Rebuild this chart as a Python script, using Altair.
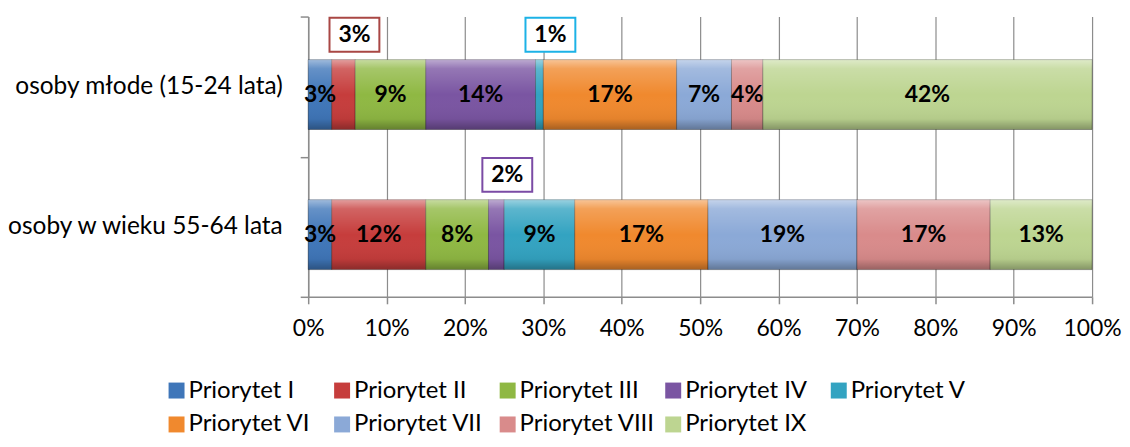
import altair as alt
import pandas as pd

groups = ["osoby młode (15-24 lata)", "osoby w wieku 55-64 lata"]
priorities = ["Priorytet I", "Priorytet II", "Priorytet III", "Priorytet IV",
              "Priorytet V", "Priorytet VI", "Priorytet VII", "Priorytet VIII",
              "Priorytet IX"]
young = [3, 3, 9, 14, 1, 17, 7, 4, 42]
older = [3, 12, 8, 2, 9, 17, 19, 17, 13]
# segments whose label is drawn in a box above the bar
callout_young = [False, True, False, False, True, False, False, False, False]
callout_older = [False, False, False, True, False, False, False, False, False]
x_ticks = [0, 10, 20, 30, 40, 50, 60, 70, 80, 90, 100]

colors = ["#3F76B9", "#C63D3C", "#8FB843", "#7A55A2", "#33A3C1",
          "#F0892E", "#8BA9D7", "#D98B8B", "#BDD591"]
edge_colors = ["#3A6CA8", "#A94744", "#7E9E40", "#7B4BA5", "#1CB2E6",
               "#D9792A", "#7891BF", "#B97474", "#9CB574"]

rows = []
for g, vals, calls in zip(groups, [young, older], [callout_young, callout_older]):
    for i, (p, v, c) in enumerate(zip(priorities, vals, calls)):
        rows.append(dict(group=g, priority=p, order=i, value=v, callout=c))
df = pd.DataFrame(rows)

FONT = "Lato"

base = alt.Chart(df).transform_stack(
    stack="value", as_=["x0", "x1"], groupby=["group"],
    sort=[alt.SortField("order", order="ascending")]
).transform_calculate(
    mid="(datum.x0 + datum.x1) / 2",
    label="datum.value + '%'"
)

y_scale = alt.Scale(paddingInner=0, paddingOuter=0)

y_enc = alt.Y("group:N", sort=groups, scale=y_scale,
              axis=alt.Axis(title=None, tickBand="extent", tickSize=8,
                            labelPadding=18, grid=False, domain=True,
                            labelFontSize=24.5, labelLimit=500))

x_enc = alt.X("x0:Q", scale=alt.Scale(domain=[0, 100], nice=False, zero=True),
              axis=alt.Axis(title=None, values=x_ticks,
                            labelExpr="datum.value + '%'", grid=True,
                            labelOverlap=False, labelFlush=False,
                            tickSize=7, labelPadding=14, labelFontSize=23))

y_plain = alt.Y("group:N", sort=groups, scale=y_scale)

bars = base.mark_bar(size=70, yOffset=8, stroke="rgba(0,0,0,0.3)",
                     strokeWidth=1).encode(
    x=x_enc,
    x2="x1:Q",
    y=y_enc,
    color=alt.Color("priority:N",
                    scale=alt.Scale(domain=priorities, range=colors),
                    legend=alt.Legend(title=None, orient="none",
                                      legendX=-144, legendY=363,
                                      direction="horizontal", columns=5,
                                      gridAlign="all", columnPadding=6,
                                      rowPadding=10, symbolType="square",
                                      symbolSize=256, symbolStrokeWidth=0,
                                      symbolOpacity=1, labelFont=FONT,
                                      labelFontSize=24, labelOffset=0,
                                      labelColor="black", labelLimit=300)),
    order=alt.Order("order:Q"),
)

bevel = base.mark_bar(
    size=70,
    yOffset=8,
    fill=alt.Gradient(
        gradient="linear", x1=0, x2=0, y1=0, y2=1,
        stops=[
            alt.GradientStop(color="rgba(255,255,255,0.5)", offset=0),
            alt.GradientStop(color="rgba(255,255,255,0.2)", offset=0.13),
            alt.GradientStop(color="rgba(255,255,255,0.0)", offset=0.5),
            alt.GradientStop(color="rgba(0,0,0,0.05)", offset=0.85),
            alt.GradientStop(color="rgba(0,0,0,0.3)", offset=1),
        ],
    ),
).encode(x="x0:Q", x2="x1:Q", y=y_plain)

labels = base.transform_filter("!datum.callout").mark_text(
    yOffset=8, font=FONT, fontSize=23, fontWeight="bold", color="black"
).encode(x="mid:Q", y=y_plain, text="label:N")

boxes = base.transform_filter("datum.callout").mark_point(
    shape="M-1,-0.68L1,-0.68L1,0.68L-1,0.68Z", size=2500, fill="white",
    fillOpacity=1, opacity=1, strokeWidth=2, xOffset=11, yOffset=-52
).encode(
    x="mid:Q", y=y_plain,
    stroke=alt.Stroke("priority:N",
                      scale=alt.Scale(domain=priorities, range=edge_colors),
                      legend=None),
)

box_text = base.transform_filter("datum.callout").mark_text(
    xOffset=11, yOffset=-52, font=FONT, fontSize=23, fontWeight="bold",
    color="black"
).encode(x="mid:Q", y=y_plain, text="label:N")

chart = alt.layer(bars, bevel, labels, boxes, box_text).properties(
    width=786, height=281,
    autosize=alt.AutoSizeParams(type="none"),
    padding={"left": 301, "top": 8, "right": 30, "bottom": 140},
    background="white",
).configure_view(stroke=None).configure_axis(
    domainColor="#8c8c8c", tickColor="#8c8c8c", gridColor="#8c8c8c",
    labelFont=FONT, labelColor="black", domainWidth=1.5, tickWidth=1.5,
    gridWidth=1.2,
)

chart.save("out.html", embed_options={"renderer": "svg", "actions": False})
